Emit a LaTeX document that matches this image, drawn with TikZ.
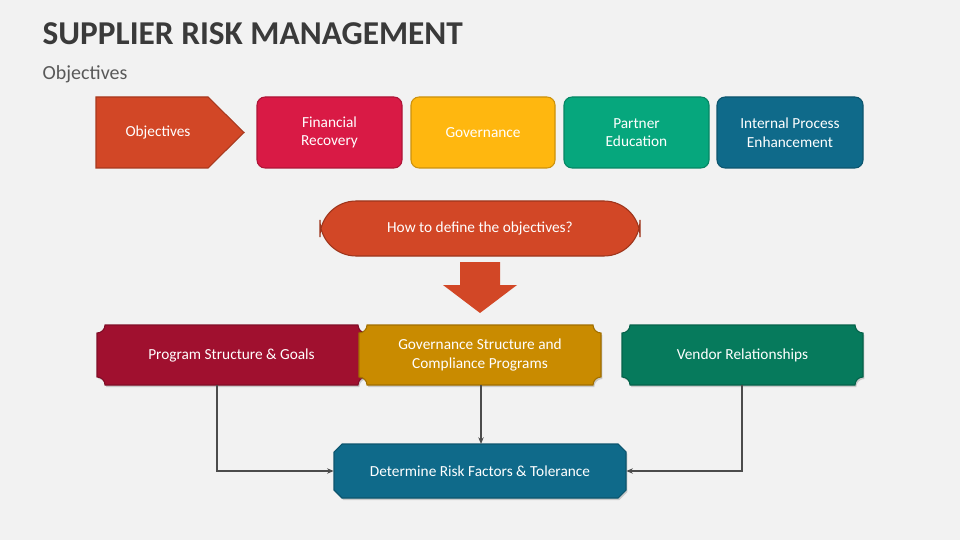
\documentclass[tikz,border=0pt]{standalone}
\usepackage{fontspec}
\setmainfont{Carlito}
\usetikzlibrary{shadows,arrows.meta}
\definecolor{bg}{HTML}{F2F2F2}
\definecolor{cobj}{HTML}{D24726}
\definecolor{cfin}{HTML}{D91A45}
\definecolor{cgov}{HTML}{FFB70F}
\definecolor{cpar}{HTML}{06A77D}
\definecolor{cint}{HTML}{0F6A8A}
\definecolor{cprog}{HTML}{A0102F}
\definecolor{cgs}{HTML}{C98B00}
\definecolor{cven}{HTML}{067A5C}
\definecolor{ctitle}{HTML}{3A3A3A}
\tikzset{
  txt/.style={text=white,font=\fontsize{11.5}{14}\selectfont,align=center,inner sep=0pt},
  tbox/.style={rounded corners=6pt,line width=0.8pt},
  conn/.style={draw=black!70,line width=0.9pt,-{Stealth[length=5pt,width=4pt]}},
  shad/.style={drop shadow={shadow xshift=1pt,shadow yshift=-1.5pt,opacity=0.35}}
}
\newcommand\plaque[5]{%
  \def\r{8}
  \path[fill=#5,draw=#5!80!black,line width=0.8pt,shad]
   (#1,#4-\r) arc[start angle=-90,end angle=0,radius=\r] -- (#3-\r,#4)
   arc[start angle=180,end angle=270,radius=\r] -- (#3,#2+\r)
   arc[start angle=90,end angle=180,radius=\r] -- (#1+\r,#2)
   arc[start angle=0,end angle=90,radius=\r] -- cycle;}
\begin{document}
\begin{tikzpicture}[x=0.75pt,y=0.75pt]
\fill[bg] (0,0) rectangle (960,540);
\useasboundingbox (0,0) rectangle (960,540);
\node[anchor=west,text=ctitle,font=\fontsize{25}{28}\bfseries] (title) at (38,506) {SUPPLIER RISK MANAGEMENT};
\node[anchor=west,text=black!65,font=\fontsize{15}{18}\selectfont] (sub) at (38,466) {Objectives};
% top row
\path[fill=cobj,draw=cobj!80!black,line width=0.8pt] (96,443) -- (208,443) -- (244,407.5) -- (208,372) -- (96,372) -- cycle;
\node[txt] (obj) at (158,407.5) {Objectives};
\draw[tbox,fill=cfin,draw=cfin!80!black] (257,372) rectangle (402,443);
\node[txt] (fin) at (329.5,407.5) {Financial\\Recovery};
\draw[tbox,fill=cgov,draw=cgov!80!black] (411,372) rectangle (555,443);
\node[txt] (gov) at (483,407.5) {Governance};
\draw[tbox,fill=cpar,draw=cpar!80!black] (564,372) rectangle (709,443);
\node[txt] (par) at (636.5,407.5) {Partner\\Education};
\draw[tbox,fill=cint,draw=cint!80!black] (717,372) rectangle (863,443);
\node[txt] (int) at (790,407.5) {Internal Process\\Enhancement};
% pill
\draw[fill=cobj,draw=cobj!75!black,line width=0.8pt,rounded corners=27pt] (320,284) rectangle (640,339);
\node[txt] (how) at (480,311.5) {How to define the objectives?};
% arrow
\path[fill=cobj] (460,278) -- (500,278) -- (500,255) -- (517,255) -- (480,227) -- (443,255) -- (460,255) -- cycle;
% plaques
\plaque{97}{155}{366}{215}{cprog}
\node[txt,minimum width=269pt*0.75,minimum height=45pt] (prog) at (231.5,185) {Program Structure \& Goals};
\plaque{359}{155}{601}{215}{cgs}
\node[txt,minimum width=181pt,minimum height=45pt] (gs) at (480,185) {Governance Structure and\\Compliance Programs};
\plaque{622}{155}{863}{215}{cven}
\node[txt,minimum width=181pt,minimum height=45pt] (ven) at (742.5,185) {Vendor Relationships};
% bottom octagon
\path[fill=cint,draw=cint!80!black,line width=0.8pt,shad] (342,96) -- (618,96) -- (626,88) -- (626,50) -- (618,42) -- (342,42) -- (334,50) -- (334,88) -- cycle;
\node[txt,minimum width=219pt,minimum height=40.5pt] (det) at (480,69) {Determine Risk Factors \& Tolerance};
% connectors
\coordinate (c1) at (217,155);
\coordinate (c2) at (742,155);
\coordinate (c3) at (481,155);
\draw[conn] (c1) |- (det.west);
\draw[conn] (c2) |- (det.east);
\draw[conn] (c3) -- (481,96);
\end{tikzpicture}
\end{document}
